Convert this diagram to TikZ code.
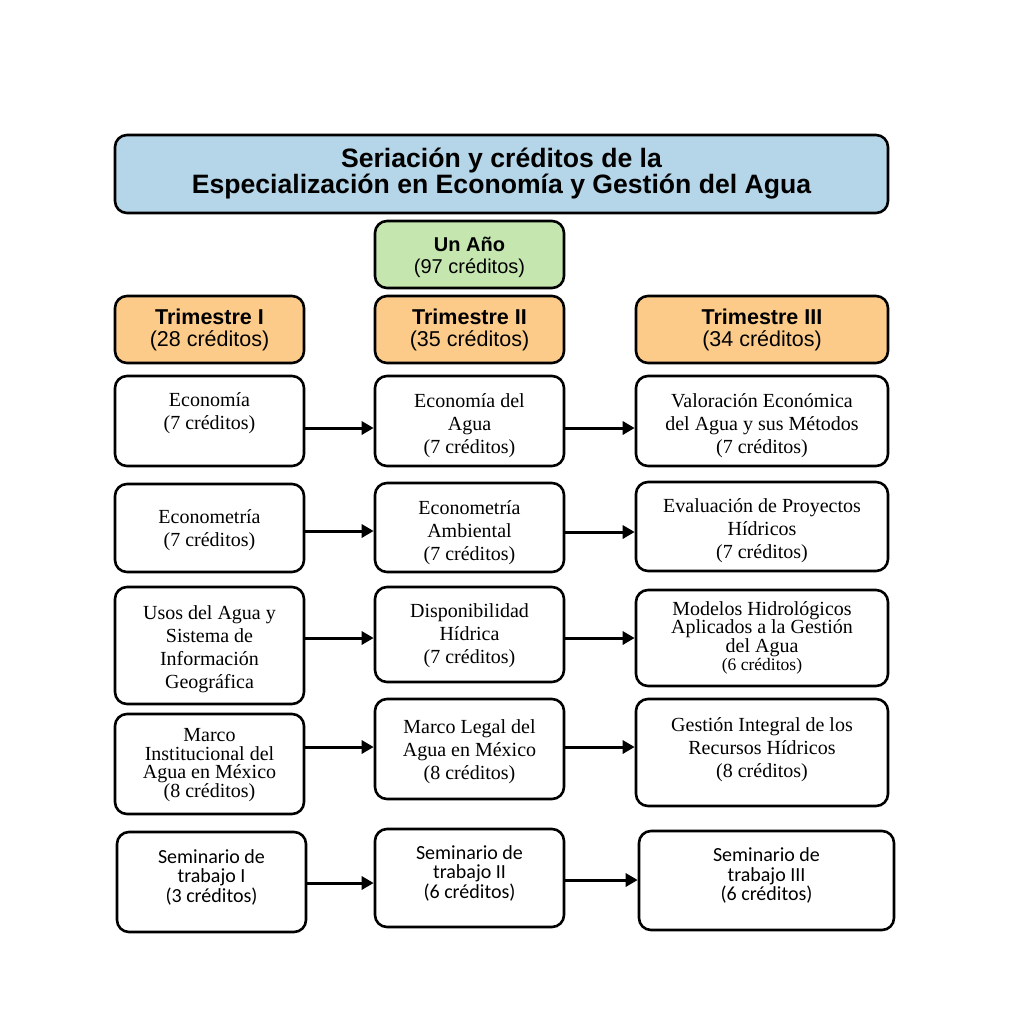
\documentclass[tikz,border=0pt]{standalone}
\usepackage{fontspec}
\setmainfont{Liberation Serif}
\newfontfamily\arialfont{Liberation Sans}
\newfontfamily\calibrifont{Carlito}
\usepackage{xcolor}
\usetikzlibrary{arrows.meta,positioning}
\definecolor{titleblue}{RGB}{181,213,232}
\definecolor{yeargreen}{RGB}{197,230,175}
\definecolor{termorange}{RGB}{252,203,138}
% strut arriba / abajo para mover el texto dentro de la caja
\newcommand{\txtdown}[1]{\rule{0pt}{#1}}
\newcommand{\txtup}[1]{\rule[-#1]{0pt}{0pt}}

\begin{document}
\begin{tikzpicture}[x=1pt, y=-1pt,
  box/.style={draw, line width=2.6pt, rounded corners=12pt, align=center, inner sep=0pt, fill=white},
  subj/.style={box, font=\fontsize{20}{23}\selectfont},
  tight/.style={box, font=\fontsize{20}{18.5}\selectfont},
  semi/.style={box, font=\calibrifont\fontsize{20}{19.5}\selectfont},
  head/.style={box, fill=termorange, minimum height=67pt, font=\arialfont\fontsize{21.5}{22}\selectfont},
  seq/.style={line width=3pt, -{Triangle[length=12pt,width=13pt]}}]
\useasboundingbox (0,0) rectangle (1027,1031);

% titulo y encabezados
\node[box, fill=titleblue, minimum width=773pt, minimum height=78pt, font=\arialfont\bfseries\fontsize{26.6}{24.5}\selectfont] (title) at (501.5,174) {Seriación y créditos de la\\Especialización en Economía y Gestión del Agua};
\node[box, fill=yeargreen, minimum width=189pt, minimum height=67pt, font=\arialfont\fontsize{20}{22.5}\selectfont] (year) at (469.5,254.5) {\txtdown{20pt}\textbf{Un Año}\\(97 créditos)};
\node[head, minimum width=189pt] (tri1) at (209.5,329.5) {\textbf{Trimestre I}\\(28 créditos)};
\node[head, minimum width=189pt] (tri2) at (469.5,329.5) {\textbf{Trimestre II}\\(35 créditos)};
\node[head, minimum width=252pt] (tri3) at (762,329.5) {\textbf{Trimestre III}\\(34 créditos)};

% materias
\node[subj, minimum width=189pt, minimum height=90pt] (eco) at (209.5,421) {Economía\\(7 créditos)\txtup{19.4pt}};
\node[subj, minimum width=189pt, minimum height=90pt] (ecoag) at (469.5,421) {\txtdown{22.7pt}Economía del\\Agua\\(7 créditos)};
\node[subj, minimum width=252pt, minimum height=90pt] (valor) at (762,421) {\txtdown{22.7pt}Valoración Económica\\del Agua y sus Métodos\\(7 créditos)};

\node[subj, minimum width=189pt, minimum height=88pt] (econom) at (209.5,528) {\txtdown{17.7pt}Econometría\\(7 créditos)};
\node[subj, minimum width=189pt, minimum height=89pt] (ecoamb) at (469.5,527.5) {\txtdown{23.7pt}Econometría\\Ambiental\\(7 créditos)};
\node[subj, minimum width=252pt, minimum height=89pt] (evalp) at (762,526.5) {\txtdown{22.7pt}Evaluación de Proyectos\\Hídricos\\(7 créditos)};

\node[subj, minimum width=189pt, minimum height=117pt] (usos) at (209.5,645.5) {\txtdown{20.7pt}Usos del Agua y\\Sistema de\\Información\\Geográfica};
\node[subj, minimum width=189pt, minimum height=95pt] (disp) at (469.5,634.5) {\txtdown{15.7pt}Disponibilidad\\Hídrica\\(7 créditos)};
\node[tight, minimum width=252pt, minimum height=96pt] (model) at (762,638) {Modelos Hidrológicos\\Aplicados a la Gestión\\del Agua\\{\fontsize{17.5}{18}\selectfont(6 créditos)}};

\node[tight, minimum width=189pt, minimum height=100pt] (minst) at (209.5,764) {\txtdown{15.7pt}Marco\\Institucional del\\Agua en México\\(8 créditos)};
\node[subj, minimum width=189pt, minimum height=100pt] (mlegal) at (469.5,749) {\txtdown{19.7pt}Marco Legal del\\Agua en México\\(8 créditos)};
\node[subj, minimum width=252pt, minimum height=107pt] (gestion) at (762,752.5) {Gestión Integral de los\\Recursos Hídricos\\(8 créditos)\txtup{9.4pt}};

\node[semi, minimum width=189pt, minimum height=100pt] (sem1) at (211.5,882) {Seminario de\\trabajo I\\(3 créditos)\txtup{12pt}};
\node[semi, minimum width=189pt, minimum height=98pt] (sem2) at (469.5,878) {Seminario de\\trabajo II\\(6 créditos)\txtup{12pt}};
\node[semi, minimum width=255pt, minimum height=99pt] (sem3) at (766.5,880.5) {Seminario de\\trabajo III\\(6 créditos)\txtup{12pt}};

% seriacion
\draw[seq] ([yshift=-7pt]eco.east) -- ([yshift=-7pt]ecoag.west);
\draw[seq] ([yshift=-7pt]ecoag.east) -- ([yshift=-7pt]valor.west);
\draw[seq] ([yshift=-3pt]econom.east) -- ([yshift=-3.5pt]ecoamb.west);
\draw[seq] ([yshift=-4.5pt]ecoamb.east) -- ([yshift=-5.5pt]evalp.west);
\draw[seq] ([yshift=7.5pt]usos.east) -- ([yshift=-3.5pt]disp.west);
\draw[seq] ([yshift=-3.5pt]disp.east) -- (model.west);
\draw[seq] ([yshift=17pt]minst.east) -- ([yshift=2pt]mlegal.west);
\draw[seq] ([yshift=2pt]mlegal.east) -- ([yshift=5.5pt]gestion.west);
\draw[seq] ([yshift=-1pt]sem1.east) -- ([yshift=-5pt]sem2.west);
\draw[seq] ([yshift=-2pt]sem2.east) -- ([yshift=0.5pt]sem3.west);
\end{tikzpicture}
\end{document}
